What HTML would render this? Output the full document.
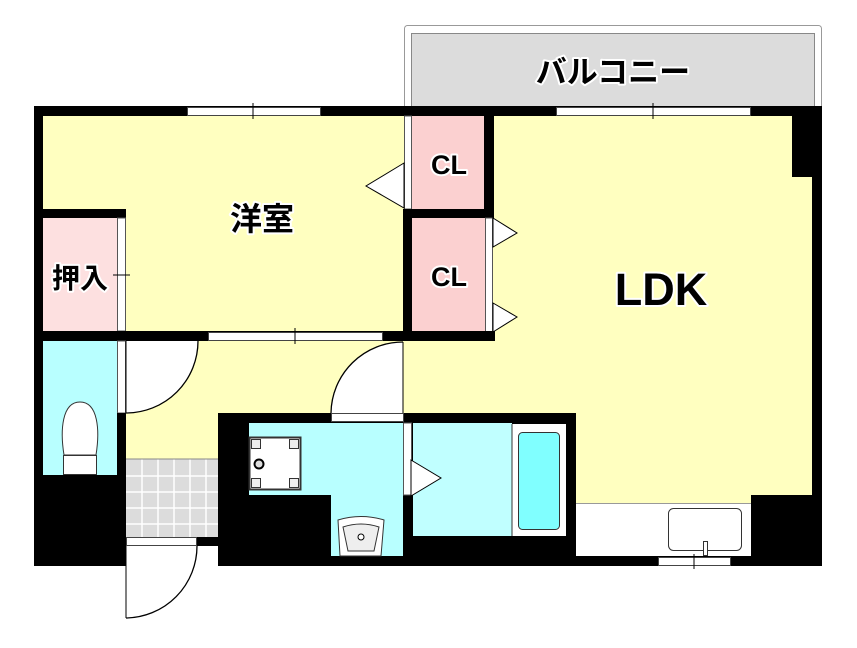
<!DOCTYPE html>
<html><head><meta charset="utf-8"><style>
html,body{margin:0;padding:0;background:#fff}
svg{display:block}
text{font-family:"Liberation Sans","Noto Sans CJK JP",sans-serif;paint-order:stroke;stroke:#fff;stroke-width:4;stroke-linejoin:round;text-anchor:middle;fill:#000}
</style></head><body>
<svg width="857" height="648" viewBox="0 0 857 648" xmlns="http://www.w3.org/2000/svg">
<!-- balcony -->
<rect x="404.5" y="25.5" width="417" height="84" rx="3" fill="#fff" stroke="#999"/>
<rect x="411.5" y="33.5" width="403" height="76" fill="#dcdcdc" stroke="#888"/>
<text x="613" y="83" font-size="31" font-weight="bold" stroke-width="5">バルコニー</text>
<!-- base yellow -->
<rect x="43" y="116" width="769" height="440" fill="#ffffc0"/>
<!-- outer walls -->
<rect x="34" y="106" width="788" height="10" fill="#000"/>
<rect x="34" y="106" width="9" height="460" fill="#000"/>
<rect x="812" y="106" width="10" height="460" fill="#000"/>
<rect x="792" y="106" width="30" height="71" fill="#000"/>
<!-- top windows -->
<rect x="187.5" y="107.5" width="133" height="8" fill="#fff" stroke="#444"/>
<line x1="253" y1="103" x2="253" y2="119" stroke="#000"/>
<rect x="556.5" y="107.5" width="194" height="8" fill="#fff" stroke="#444"/>
<line x1="653" y1="103" x2="653" y2="119" stroke="#000"/>
<!-- CLs -->
<rect x="412" y="116" width="73" height="93" fill="#fbd0d0"/>
<rect x="412" y="218" width="73" height="114" fill="#fbd0d0"/>
<rect x="404.5" y="116" width="7" height="93" fill="#fff" stroke="#555"/>
<polygon points="404,163 366,186 404,208" fill="#fff" stroke="#000"/>
<rect x="484" y="116" width="10" height="102" fill="#000"/>
<rect x="403" y="209" width="91" height="9" fill="#000"/>
<rect x="403" y="218" width="9" height="114" fill="#000"/>
<rect x="485.5" y="218" width="7" height="114" fill="#fff" stroke="#555"/>
<polygon points="493,218 517,233 493,247" fill="#fff" stroke="#000"/>
<polygon points="493,303 517,317 493,332" fill="#fff" stroke="#000"/>
<text x="449" y="174" font-size="27" font-weight="bold">CL</text>
<text x="449" y="286" font-size="27" font-weight="bold">CL</text>
<!-- oshiire -->
<rect x="43" y="218" width="74" height="113" fill="#fde0e0"/>
<rect x="34" y="209" width="92" height="9" fill="#000"/>
<rect x="117.5" y="218" width="8" height="113" fill="#fff" stroke="#555"/>
<line x1="113" y1="275" x2="130" y2="275" stroke="#000"/>
<text x="80" y="288" font-size="28" font-weight="bold">押入</text>
<text x="262" y="230" font-size="32" font-weight="bold">洋室</text>
<!-- mid wall -->
<rect x="34" y="331" width="461" height="10" fill="#000"/>
<rect x="208.5" y="332.5" width="174" height="8" fill="#fff" stroke="#444"/>
<line x1="295" y1="328" x2="295" y2="344" stroke="#000"/>
<!-- toilet -->
<rect x="43" y="341" width="74" height="134" fill="#b8ffff"/>
<rect x="117.5" y="341" width="8" height="72" fill="#fff" stroke="#555"/>
<rect x="117" y="413" width="9" height="153" fill="#000"/>
<rect x="34" y="475" width="92" height="91" fill="#000"/>
<path d="M126,413 L126,341 L198,341 A72,72 0 0 1 126,413 Z" fill="#fff"/>
<path d="M198,341 A72,72 0 0 1 126,413" fill="none" stroke="#000" stroke-width="1.3"/>
<line x1="126" y1="341" x2="126" y2="413" stroke="#000"/>
<path d="M64,455 C60,430 62,402 80,402 C98,402 100,430 96,455 Z" fill="#fff" stroke="#333"/>
<rect x="63.5" y="455.5" width="33" height="19" fill="#fff" stroke="#333"/>
<!-- entrance tile -->
<rect x="126" y="459" width="92" height="78" fill="#dcdcdc"/>
<g stroke="#fff" stroke-width="1.5">
<line x1="142" y1="459" x2="142" y2="537"/><line x1="158" y1="459" x2="158" y2="537"/><line x1="174" y1="459" x2="174" y2="537"/><line x1="190" y1="459" x2="190" y2="537"/><line x1="206" y1="459" x2="206" y2="537"/>
<line x1="126" y1="476" x2="218" y2="476"/><line x1="126" y1="492" x2="218" y2="492"/><line x1="126" y1="508" x2="218" y2="508"/><line x1="126" y1="524" x2="218" y2="524"/>
</g>
<line x1="126" y1="459" x2="218" y2="459" stroke="#888"/>
<rect x="126" y="546" width="92" height="22" fill="#fff"/>
<rect x="126.5" y="537.5" width="70" height="8" fill="#fff" stroke="#444"/>
<rect x="197" y="537" width="21" height="9" fill="#000"/>
<path d="M197,546 A72,72 0 0 1 126,618" fill="none" stroke="#000" stroke-width="1.3"/>
<line x1="126" y1="546" x2="126" y2="618" stroke="#000"/>
<!-- bath block -->
<rect x="218" y="413" width="358" height="153" fill="#000"/>
<path d="M403,413 L403,342 A72,72 0 0 0 331,413 Z" fill="#fff"/>
<path d="M403,342 A72,72 0 0 0 331,413" fill="none" stroke="#000" stroke-width="1.3"/>
<line x1="403" y1="342" x2="403" y2="413" stroke="#000"/>
<rect x="331.5" y="413.5" width="72" height="8" fill="#fff" stroke="#444"/>
<rect x="249" y="423" width="154" height="72" fill="#b8ffff"/>
<rect x="331" y="495" width="72" height="61" fill="#b8ffff"/>
<rect x="249.5" y="437.5" width="51" height="52" fill="#fff" stroke="#333" stroke-width="2"/>
<g fill="#eee" stroke="#333"><rect x="251.5" y="439.5" width="9" height="9"/><rect x="289.5" y="439.5" width="9" height="9"/><rect x="251.5" y="478.5" width="9" height="9"/><rect x="289.5" y="478.5" width="9" height="9"/></g>
<circle cx="259" cy="464" r="4.5" fill="#ddd" stroke="#000" stroke-width="2"/>
<path d="M338,520 Q361,513 384,520 L381,556 L340,556 Z" fill="#fff" stroke="#333"/>
<path d="M343,527 Q361,521 379,527 L374,551 L348,551 Z" fill="#eee" stroke="#333"/>
<circle cx="361" cy="537" r="3" fill="#fff" stroke="#000"/>
<rect x="413" y="423" width="99" height="113" fill="#c0ffff"/>
<rect x="512" y="424" width="54" height="112" fill="#fff"/>
<line x1="512" y1="424" x2="512" y2="536" stroke="#333"/>
<rect x="518.5" y="432.5" width="41" height="97" rx="4" fill="#80ffff" stroke="#333"/>
<rect x="403.5" y="423" width="8" height="72" fill="#fff" stroke="#555"/>
<polygon points="411,460 441,478 411,496" fill="#fff" stroke="#000"/>
<!-- kitchen -->
<rect x="576" y="503" width="175" height="53" fill="#fff"/>
<line x1="576" y1="503.5" x2="751" y2="503.5" stroke="#999"/>
<rect x="751" y="495" width="71" height="71" fill="#000"/>
<rect x="576" y="556" width="246" height="10" fill="#000"/>
<rect x="668.5" y="508.5" width="73" height="42" rx="5" fill="#fff" stroke="#333"/>
<rect x="703.5" y="541.5" width="4" height="14" fill="#fff" stroke="#333"/>
<rect x="658.5" y="557.5" width="72" height="8" fill="#fff" stroke="#444"/>
<line x1="694" y1="554" x2="694" y2="569" stroke="#000"/>
<text x="661" y="305" font-size="45" font-weight="bold" stroke-width="5">LDK</text>
</svg>
</body></html>
